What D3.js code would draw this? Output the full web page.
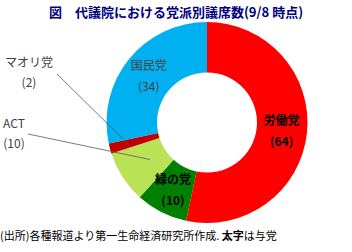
<!DOCTYPE html>
<html><head><meta charset="utf-8">
<script src="https://cdn.jsdelivr.net/npm/d3@7"></script>
<style>body{margin:0;background:#fff;} svg{display:block;}</style>
</head><body>
<script>
const parties = ["労働党", "緑の党", "ACT", "マオリ党", "国民党"];
const seats = [64, 10, 10, 2, 34];
const colors = ["#FF0000", "#008000", "#92D050", "#C00000", "#00B0F0"];
const ruling = [true, true, false, false, false];

const W = 352, H = 252;
const svg = d3.select("body").append("svg").attr("width", W).attr("height", H);
const font = "'Noto Sans CJK JP', 'Noto Sans', sans-serif";

const defs = svg.append("defs");
const pat = defs.append("pattern").attr("id", "hatch").attr("patternUnits", "userSpaceOnUse")
  .attr("width", 4).attr("height", 2);
pat.append("rect").attr("width", 4).attr("height", 2).attr("fill", "#8ED24E");
pat.append("rect").attr("width", 4).attr("height", 1).attr("y", 1).attr("fill", "#E4F25A");

svg.append("text").attr("x", 176).attr("y", 17).attr("text-anchor", "middle")
  .attr("font-family", font).attr("font-weight", "bold").attr("font-size", 13)
  .attr("fill", "#000080").text("図　代議院における党派別議席数(9/8 時点)");

const cx = 207, cy = 122.5, rO = 100.5, rI = 50;
const pie = d3.pie().sort(null).value(d => d.v);
const data = parties.map((p, i) => ({p, v: seats[i], c: colors[i], b: ruling[i], i}));
const arcs = pie(data);
const arc = d3.arc().innerRadius(rI).outerRadius(rO);
const g = svg.append("g").attr("transform", `translate(${cx},${cy})`);
g.selectAll("path").data(arcs).join("path")
  .attr("d", arc)
  .attr("fill", d => d.data.p === "ACT" ? "url(#hatch)" : d.data.c);

// inside labels
const labArc = d3.arc().innerRadius(75).outerRadius(75);
const inside = arcs.filter(d => d.data.v >= 10 && d.data.p !== "ACT");
inside.forEach(d => {
  const [x, y] = labArc.centroid(d);
  const t = g.append("text").attr("text-anchor", "middle").attr("font-family", font)
    .attr("font-size", 12).attr("fill", d.data.b ? "#000" : "#404040")
    .attr("font-weight", d.data.b ? "bold" : "normal");
  t.append("tspan").attr("x", x).attr("y", y - 5).text(d.data.p);
  t.append("tspan").attr("x", x).attr("y", y + 16).text(`(${d.data.v})`);
});

// outside labels with leader lines
const outside = [
  {p: "マオリ党", lx: 29, ly: 67, sx: 57, sy: 74, r: 82},
  {p: "ACT", lx: 14, ly: 128, sx: 28, sy: 134, r: 68}
];
outside.forEach(o => {
  const d = arcs.find(a => a.data.p === o.p);
  const [ex, ey] = d3.arc().innerRadius(o.r).outerRadius(o.r).centroid(d);
  svg.append("line").attr("x1", o.sx).attr("y1", o.sy).attr("x2", cx + ex).attr("y2", cy + ey)
    .attr("stroke", "#595959").attr("stroke-width", 0.8);
  const t = svg.append("text").attr("text-anchor", "middle").attr("font-family", font)
    .attr("font-size", 12).attr("fill", "#404040");
  t.append("tspan").attr("x", o.lx).attr("y", o.ly).text(o.p);
  t.append("tspan").attr("x", o.lx).attr("y", o.ly + 20).text(`(${d.data.v})`);
});

const foot = svg.append("text").attr("x", 0).attr("y", 240).attr("font-family", font)
  .attr("font-size", 11).attr("fill", "#000");
foot.append("tspan").text("(出所)各種報道より第一生命経済研究所作成. ");
foot.append("tspan").attr("font-weight", "bold").text("太字");
foot.append("tspan").text("は与党");
</script>
</body></html>
